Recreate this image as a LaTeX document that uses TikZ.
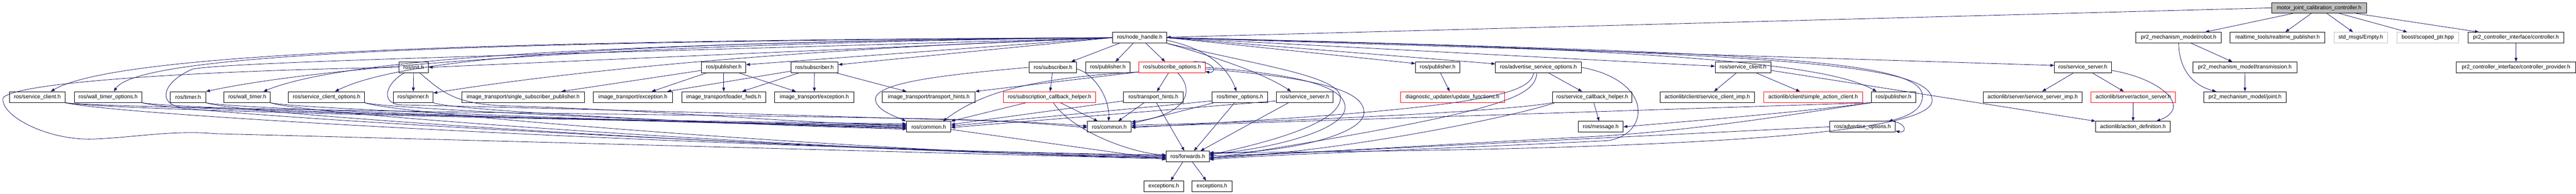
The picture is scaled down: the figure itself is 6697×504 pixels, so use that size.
\documentclass[tikz,border=0pt]{standalone}
\usepackage{fontspec}
\setmainfont{Liberation Sans}
\usetikzlibrary{arrows.meta}
\definecolor{edgec}{HTML}{191970}
\definecolor{greyb}{HTML}{BFBFBF}
\begin{document}
\begin{tikzpicture}[x=1pt,y=-1pt,
  nb/.style={draw=black, line width=1.3pt, fill=white, inner sep=0pt, minimum height=28pt, font=\fontsize{14.2}{17}\selectfont},
  rb/.style={nb, draw=red},
  gb/.style={nb, draw=greyb},
  rootb/.style={nb, fill=greyb, minimum height=27.6pt},
  edg/.style={draw=edgec, line width=1.1pt, -{Triangle[length=10pt,width=7.5pt]}}]
\useasboundingbox (0,0) rectangle (6697,504);
% row 0
\node[rootb, minimum width=246pt] (root) at (6029,20.5) {motor\_joint\_calibration\_controller.h};
% row 1
\node[nb, minimum width=140pt] (nh) at (2963,98) {ros/node\_handle.h};
\node[nb, minimum width=222pt] (robot) at (5664,98) {pr2\_mechanism\_model/robot.h};
\node[nb, minimum width=246pt] (rtp) at (5921,98) {realtime\_tools/realtime\_publisher.h};
\node[gb, minimum width=139pt] (empty) at (6137.5,98) {std\_msgs/Empty.h};
\node[gb, minimum width=161pt] (scoped) at (6311.5,98) {boost/scoped\_ptr.hpp};
\node[nb, minimum width=250pt] (ctrl) at (6541,98) {pr2\_controller\_interface/controller.h};
% row 2
\node[nb, minimum width=77pt] (init) at (1075.5,175.3) {ros/init.h};
\node[nb, minimum width=115pt] (pubA) at (1881.5,175.3) {ros/publisher.h};
\node[nb, minimum width=123pt] (subA) at (2117.5,175.3) {ros/subscriber.h};
\node[nb, minimum width=123pt] (subB) at (2737.5,175.3) {ros/subscriber.h};
\node[nb, minimum width=115pt] (pubB) at (2880,175.3) {ros/publisher.h};
\node[rb, minimum width=172pt] (subopt) at (3047,175.3) {ros/subscribe\_options.h};
\node[nb, minimum width=115pt] (pubC) at (3737.5,175.3) {ros/publisher.h};
\node[nb, minimum width=223pt] (aso) at (3999.5,175.3) {ros/advertise\_service\_options.h};
\node[nb, minimum width=145pt] (scB) at (4531.5,175.3) {ros/service\_client.h};
\node[nb, minimum width=148pt] (ssB) at (5415,175.3) {ros/service\_server.h};
\node[nb, minimum width=270pt] (trans) at (5836,175.3) {pr2\_mechanism\_model/transmission.h};
\node[nb, minimum width=310pt] (prov) at (6541,175.3) {pr2\_controller\_interface/controller\_provider.h};
% row 3
\node[nb, minimum width=144pt] (scA) at (97,252.7) {ros/service\_client.h};
\node[nb, minimum width=176pt] (wto) at (281,252.7) {ros/wall\_timer\_options.h};
\node[nb, minimum width=92pt] (timer) at (489,252.7) {ros/timer.h};
\node[nb, minimum width=120.5pt] (wt) at (642.75,252.7) {ros/wall\_timer.h};
\node[nb, minimum width=198pt] (sco) at (849,252.7) {ros/service\_client\_options.h};
\node[nb, minimum width=103.5pt] (spin) at (1074.25,252.7) {ros/spinner.h};
\node[nb, minimum width=318pt] (ssp) at (1360,252.7) {image\_transport/single\_subscriber\_publisher.h};
\node[nb, minimum width=205.5pt] (itx) at (1645.25,252.7) {image\_transport/exception.h};
\node[nb, minimum width=219pt] (lf) at (1881.5,252.7) {image\_transport/loader\_fwds.h};
\node[nb, minimum width=206pt] (itexc) at (2117,252.7) {image\_transport/exception.h};
\node[nb, minimum width=241pt] (ith) at (2414.5,252.7) {image\_transport/transport\_hints.h};
\node[rb, minimum width=239pt] (sch) at (2728.5,252.7) {ros/subscription\_callback\_helper.h};
\node[nb, minimum width=155pt] (th) at (2998.5,252.7) {ros/transport\_hints.h};
\node[nb, minimum width=145pt] (tmo) at (3223.5,252.7) {ros/timer\_options.h};
\node[nb, minimum width=148pt] (ssA) at (3392,252.7) {ros/service\_server.h};
\node[rb, minimum width=270pt] (uf) at (3776,252.7) {diagnostic\_updater/update\_functions.h};
\node[nb, minimum width=206.5pt] (sbh) at (4139.25,252.7) {ros/service\_callback\_helper.h};
\node[nb, minimum width=245pt] (scimp) at (4438.5,252.7) {actionlib/client/service\_client\_imp.h};
\node[rb, minimum width=257.5pt] (sac) at (4713.75,252.7) {actionlib/client/simple\_action\_client.h};
\node[nb, minimum width=115pt] (pubD) at (4922.5,252.7) {ros/publisher.h};
\node[nb, minimum width=257pt] (ssimp) at (5284.5,252.7) {actionlib/server/service\_server\_imp.h};
\node[rb, minimum width=220pt] (asrv) at (5546,252.7) {actionlib/server/action\_server.h};
\node[nb, minimum width=215pt] (joint) at (5836.5,252.7) {pr2\_mechanism\_model/joint.h};
% row 4
\node[nb, minimum width=115pt] (comA) at (2414.5,330) {ros/common.h};
\node[nb, minimum width=114pt] (comB) at (2884,330) {ros/common.h};
\node[nb, minimum width=117pt] (msg) at (4161.5,330) {ros/message.h};
\node[nb, minimum width=170.5pt] (ao) at (4842.25,330) {ros/advertise\_options.h};
\node[nb, minimum width=194.5pt] (adef) at (5545.25,330) {actionlib/action\_definition.h};
% row 5
\node[nb, minimum width=112pt] (fw) at (3088,407.3) {ros/forwards.h};
% row 6
\node[nb, minimum width=103pt] (ex1) at (3025.5,484.7) {exceptions.h};
\node[nb, minimum width=103.5pt] (ex2) at (3150.75,484.7) {exceptions.h};

% ---- right cluster
\draw[edg] (root.west) -- ([yshift=1pt]nh.east);
\draw[edg] (root) -- (robot);
\draw[edg] (root) -- (rtp);
\draw[edg] (root) -- (empty);
\draw[edg] (root) -- (scoped);
\draw[edg] (root) -- (ctrl);
\draw[edg] (ctrl) -- (prov);
\draw[edg] (robot) -- (trans);
\draw[edg] (trans) -- (joint);
\draw[edg] (robot.south) .. controls (5665,180) and (5700,222) .. ([xshift=33pt]joint.north west);
\draw[edg] (ssB) -- (ssimp);
\draw[edg] (ssB) -- (asrv);
\draw[edg] (asrv) -- (adef);
\draw[edg] ([yshift=-8pt]ssB.east) .. controls (5620,205) and (5700,280) .. ([xshift=-37pt]adef.north east);
\draw[edg] (scB) -- (scimp);
\draw[edg] (scB) -- (sac);
\draw[edg] ([yshift=-8pt]scB.east) -- (adef.north west);
% publisher / advertise options
\draw[edg] (pubD.south west) .. controls (4700,290) and (4400,315) .. (msg.east);
\draw[edg] (pubD.south west) -- (comB.east);
\draw[edg] (pubD.south west) .. controls (4650,300) and (4400,340) .. (4150,355) .. controls (3700,378) and (3400,400) .. ([yshift=2pt]fw.east);
\draw[edg] (ao.west) -- ([yshift=-2pt]fw.east);
\draw[edg] ([xshift=-31pt]ao.north east) .. controls (4955,310) and (4962,348) .. ([yshift=-11pt]ao.east);
% service callback helper
\draw[edg] (sbh) -- (msg);
\draw[edg] (sbh.south west) .. controls (3950,285) and (3500,312) .. ([yshift=4pt]comB.east);
\draw[edg] ([xshift=7pt]sbh.south west) .. controls (3950,300) and (3500,395) .. ([yshift=-4pt]fw.east);
% advertise service options
\draw[edg] (aso) -- (sbh);
\draw[edg] ([xshift=-12pt]aso.south) .. controls (3975,240) and (3900,282) .. ([yshift=-2pt]comB.east);
\draw[edg] ([xshift=-4pt]aso.south) .. controls (3990,255) and (3900,292) .. ([yshift=-6pt]fw.east);
\draw[edg] (aso.east) .. controls (4300,210) and (4290,350) .. (4180,366) .. controls (3700,390) and (3300,402) .. ([yshift=-8pt]fw.east);
\draw[edg] (pubC) -- (uf);
% service server / timer options / transport hints
\draw[edg] ([xshift=-42pt]ssA.south) -- ([xshift=33pt]fw.north);
\draw[edg] ([yshift=-10pt]ssA.west) -- ([yshift=-2pt]comA.east);
\draw[edg] ([xshift=-14pt]tmo.south) -- ([xshift=16pt]fw.north);
\draw[edg] ([yshift=-10pt]tmo.west) -- ([yshift=2pt]comA.east);
\draw[edg] ([xshift=6pt]tmo.south west) -- ([yshift=8pt]comB.east);
\draw[edg] ([xshift=-24pt]th.south) -- ([xshift=23pt]comB.north);
\draw[edg] ([xshift=8pt]th.south) -- ([xshift=-9pt]fw.north);
\draw[edg] ([yshift=-10pt]th.west) -- ([yshift=6pt]comA.east);
% subscription callback helper
\draw[edg] ([xshift=-61pt]sch.south) -- (comA.north east);
\draw[edg] ([xshift=28pt]sch.south) -- ([xshift=-30pt]comB.north);
\draw[edg] ([xshift=10pt]sch.south) .. controls (2790,345) and (2950,400) .. ([yshift=4pt]fw.west);
% subscribers
\draw[edg] (subB) -- (sch);
\draw[edg] (subB.west) .. controls (2450,195) and (2280,215) .. (2276,257) .. controls (2276,285) and (2320,300) .. ([xshift=-1pt]comA.north west);
\draw[edg] ([yshift=-4pt]subB.east) .. controls (2850,195) and (2885,260) .. ([xshift=-2pt]comB.north);
% subscribe options
\draw[edg] (subopt) -- (th);
\draw[edg] ([xshift=15pt]subopt.south) .. controls (3110,240) and (3080,300) .. ([yshift=13pt]comB.east);
\draw[edg] ([xshift=-32pt]subopt.north east) .. controls (3160,158) and (3165,192) .. ([yshift=-11pt]subopt.east);
\draw[edg] ([yshift=-12pt]subopt.west) -- (ith.north east);
\draw[edg] ([yshift=-12pt]subopt.west) .. controls (2650,205) and (2540,250) .. ([xshift=37pt]comA.north);
\draw[edg] (subopt.east) .. controls (3400,195) and (3497,230) .. (3497,280) .. controls (3497,340) and (3300,388) .. ([yshift=6pt]fw.east);
\draw[edg] ([yshift=-4pt]subopt.east) .. controls (3450,205) and (3546,240) .. (3546,293) .. controls (3546,350) and (3350,398) .. ([yshift=8pt]fw.east);
% image transport
\draw[edg] ([yshift=-8pt]pubA.west) -- ([xshift=-60pt]ssp.north east);
\draw[edg] ([xshift=-45pt]pubA.south) -- ([xshift=49pt]itx.north);
\draw[edg] (pubA) -- (lf);
\draw[edg] ([xshift=40pt]pubA.south) -- ([xshift=-48pt]itexc.north);
\draw[edg] ([yshift=-10pt]subA.west) -- ([xshift=-14pt]itx.north east);
\draw[edg] ([xshift=-41pt]subA.south) -- ([xshift=48pt]lf.north);
\draw[edg] (subA) -- (itexc);
\draw[edg] ([xshift=-5pt]subA.south east) -- ([xshift=-58pt]ith.north);
% node handle fan out
\draw[edg] (nh.west) .. controls (1200,105) and (300,140) .. ([xshift=35pt]scA.north);
\draw[edg] (nh.west) .. controls (1200,108) and (360,140) .. ([xshift=15pt]wto.north);
\draw[edg] (nh.west) .. controls (1800,110) and (900,160) .. (timer.north east);
\draw[edg] (nh.west) .. controls (1600,110) and (900,150) .. ([xshift=42pt]wt.north);
\draw[edg] (nh.west) .. controls (1600,108) and (1050,150) .. ([xshift=22pt]sco.north);
\draw[edg] (nh.west) -- (init.east);
\draw[edg] (nh.west) .. controls (2000,130) and (1450,190) .. ([yshift=-4pt]spin.north east);
\draw[edg] (nh.west) -- ([yshift=7pt]pubA.east);
\draw[edg] (nh.west) -- ([yshift=7pt]subA.east);
\draw[edg] ([xshift=-53pt]nh.south) -- ([xshift=-15pt]subB.north east);
\draw[edg] ([xshift=-17pt]nh.south) -- ([xshift=20pt]pubB.north);
\draw[edg] ([xshift=16pt]nh.south) -- ([xshift=-18pt]subopt.north);
\draw[edg] ([yshift=-7pt]nh.east) .. controls (3130,125) and (3190,170) .. ([xshift=-9pt]tmo.north);
\draw[edg] (nh.south east) .. controls (3200,160) and (3300,200) .. ([xshift=39pt]ssA.north west);
\draw[edg] (nh.east) -- ([yshift=10pt]pubC.west);
\draw[edg] (nh.east) -- ([yshift=9pt]aso.west);
\draw[edg] (nh.east) -- ([yshift=3pt]scB.west);
\draw[edg] (nh.east) -- ([yshift=5pt]ssB.west);
\draw[edg] (nh.east) .. controls (4300,125) and (4750,165) .. ([xshift=-44pt]pubD.north);
\draw[edg] (nh.east) .. controls (4500,135) and (4998,150) .. (4998,250) .. controls (4998,290) and (4950,305) .. ([xshift=-18pt]ao.north east);
\draw[edg] (nh.east) .. controls (4700,140) and (5023,170) .. (5023,262) .. controls (5023,360) and (4200,392) .. ([yshift=10pt]fw.east);
\draw[edg] (nh.south east) .. controls (3300,175) and (3485,200) .. (3485,255) .. controls (3485,320) and (3300,370) .. ([yshift=4pt]fw.east);
\draw[edg] (nh.west) .. controls (1500,140) and (600,160) .. (500,180) .. controls (420,215) and (410,270) .. (470,279) .. controls (900,300) and (1900,318) .. ([yshift=8pt]comA.west);
% left bundle
\draw[edg] (scA.south east) .. controls (300,290) and (1800,318) .. ([yshift=4pt]comA.west);
\draw[edg] (scA.south east) .. controls (300,285) and (2000,300) .. (2400,309) .. controls (2600,313) and (2750,322) .. ([yshift=2pt]comB.west);
\draw[edg] (scA.south east) .. controls (330,305) and (2000,390) .. ([yshift=4pt]fw.west);
\draw[edg] (wto.south east) .. controls (450,285) and (1800,320) .. ([yshift=2pt]comA.west);
\draw[edg] (wto.south east) .. controls (480,300) and (2200,395) .. ([yshift=2pt]fw.west);
\draw[edg] (timer.south east) .. controls (600,285) and (1800,322) .. (comA.west);
\draw[edg] (timer.south east) .. controls (620,300) and (2200,400) .. (fw.west);
\draw[edg] (wt.south east) .. controls (760,285) and (1900,324) .. ([yshift=-2pt]comA.west);
\draw[edg] (wt.south east) .. controls (780,300) and (2300,402) .. ([yshift=-2pt]fw.west);
\draw[edg] (sco.south east) .. controls (1010,285) and (2000,326) .. ([yshift=-4pt]comA.west);
\draw[edg] (sco.south east) .. controls (1030,300) and (2400,404) .. ([yshift=-4pt]fw.west);
\draw[edg] (spin.south east) .. controls (1180,290) and (2000,328) .. ([yshift=-6pt]comA.west);
% init
\draw[edg] (init) -- (spin);
\draw[edg] ([xshift=16pt]init.south) .. controls (1150,240) and (1180,268) .. (1300,275) .. controls (1800,290) and (2100,325) .. ([yshift=6pt]comA.west);
\draw[edg] ([xshift=-25pt]init.south) .. controls (1000,220) and (990,268) .. (1040,273) .. controls (1800,290) and (2200,305) .. (2450,311) .. controls (2650,315) and (2750,326) .. ([yshift=-2pt]comB.west);
\draw[edg] (init.west) .. controls (600,182) and (40,210) .. (8,255) .. controls (0,300) and (120,365) .. (240,362) .. controls (350,358) and (450,338) .. (560,348) .. controls (1500,372) and (2500,400) .. ([yshift=-6pt]fw.west);
% common and forwards
\draw[edg] ([yshift=-7pt]comA.east) -- ([yshift=-8pt]fw.west);
\draw[edg] ([xshift=-13pt]fw.south) -- ([xshift=18pt]ex1.north);
\draw[edg] ([xshift=12pt]fw.south) -- ([xshift=-15pt]ex2.north);
\end{tikzpicture}
\end{document}
